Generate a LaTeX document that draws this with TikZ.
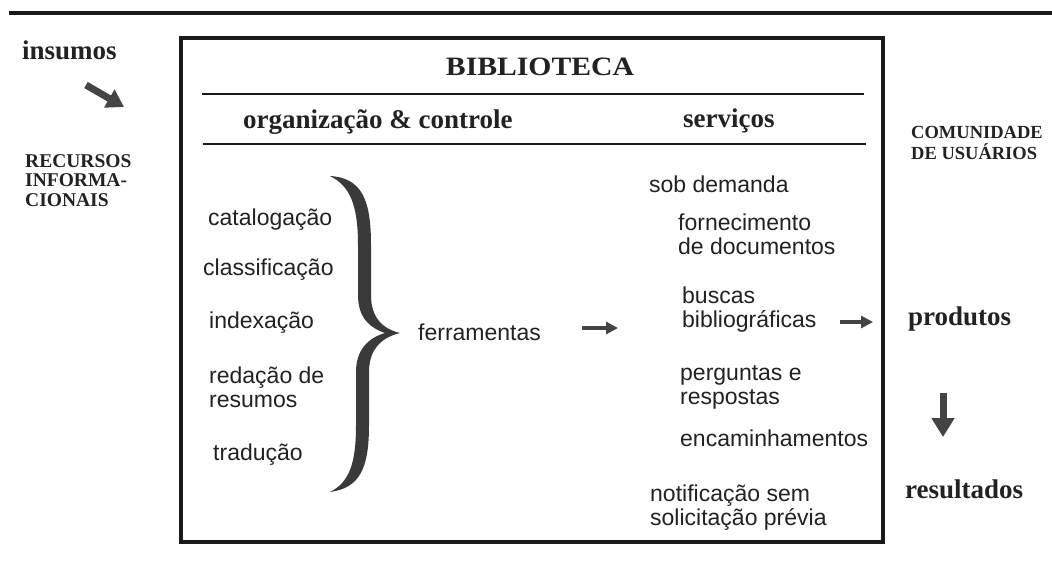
\documentclass[tikz,border=0pt]{standalone}
\usepackage{fontspec}
\usepackage{graphicx}
\setmainfont{Liberation Serif}
\setsansfont{Liberation Sans}
\usetikzlibrary{arrows.meta}
\definecolor{ink}{HTML}{222222}
\definecolor{arr}{HTML}{444444}
\definecolor{bracec}{HTML}{3A3A3A}
\tikzset{
  serifb/.style={font=\fontsize{27}{30}\selectfont\bfseries, text=ink, inner sep=0pt, anchor=base west},
  capsb/.style={font=\fontsize{19.5}{19.5}\selectfont\bfseries, text=ink, inner sep=0pt, anchor=base west},
  capsc/.style={font=\fontsize{18.5}{20}\selectfont\bfseries, text=ink, inner sep=0pt, anchor=base west},
  sanst/.style={font=\fontsize{23}{24}\selectfont\sffamily, text=ink, inner sep=0pt, anchor=base west},
  thinarrow/.style={draw=arr, line width=3.5pt, -{Triangle[length=12pt,width=12pt]}},
  bigarrow/.style={draw=arr, line width=7pt, -{Triangle[length=19pt,width=22pt]}},
  diagarrow/.style={draw=arr, line width=7pt, -{Triangle[length=17pt,width=20pt]}},
  frame/.style={draw=black!90, line width=3.5pt},
  rule/.style={draw=black!90, line width=2.2pt},
}
\newcommand{\rows}[1]{\begin{tabular}[t]{@{}l@{}}#1\end{tabular}}
\begin{document}
\begin{tikzpicture}[x=1pt,y=-1pt]
\useasboundingbox[fill=white] (0,0) rectangle (1052,570);
% top rule and frame
\draw[frame] (9,13) -- (1052,13);
\draw[frame] (181,38) rectangle (883,542);
\draw[rule] (202,94) -- (864,94);
\draw[rule] (203,144) -- (866,144);
% headings
\node[font=\fontsize{26.5}{30}\selectfont\bfseries, text=ink, inner sep=0pt, anchor=base] (bib) at (540,75) {\scalebox{1.12}[1]{BIBLIOTECA}};
\node[serifb] (org) at (243,128) {organização \& controle};
\node[serifb] (serv) at (683,127) {serviços};
% outside labels
\node[serifb] (ins) at (22,59) {insumos};
\node[capsb] (rec) at (25,167) {\rows{RECURSOS\\INFORMA-\\CIONAIS}};
\node[capsc] (com) at (911,138) {\rows{COMUNIDADE\\DE USUÁRIOS}};
\node[serifb] (prod) at (908,325) {produtos};
\node[serifb] (res) at (905,498) {resultados};
% left column
\node[sanst] (cat) at (208,225) {catalogação};
\node[sanst] (cla) at (203,275) {classificação};
\node[sanst] (ind) at (209,328) {indexação};
\node[sanst] (red) at (209,383) {\rows{redação de\\resumos}};
\node[sanst] (tra) at (213,460) {tradução};
\node[sanst] (fer) at (418,340) {ferramentas};
% services column
\node[sanst] (sob) at (649,192) {sob demanda};
\node[sanst] (for) at (678,230) {\rows{fornecimento\\de documentos}};
\node[sanst] (bus) at (682,303) {\rows{buscas\\bibliográficas}};
\node[sanst] (per) at (680,380) {\rows{perguntas e\\respostas}};
\node[sanst] (enc) at (680,446) {encaminhamentos};
\node[sanst] (not) at (650,501) {\rows{notificação sem\\solicitação prévia}};
% brace
\fill[bracec] (330,176) .. controls (362,178) and (371,200) .. (371,245)
  -- (371,295) .. controls (371,318) and (383,329) .. (400,333)
  .. controls (383,337) and (369,348) .. (369,372)
  -- (369,425) .. controls (369,468) and (360,488) .. (330,492)
  .. controls (350,482) and (356,462) .. (356,425)
  -- (356,372) .. controls (356,350) and (368,338) .. (385,333)
  .. controls (370,328) and (358,318) .. (358,295)
  -- (358,245) .. controls (358,205) and (350,186) .. (330,176) -- cycle;
% arrows
\coordinate (d1) at (86,85);
\coordinate (d2) at (124,107);
\draw[diagarrow] (d1) -- (d2);
\coordinate (f1) at (582,328);
\coordinate (f2) at (618,328);
\draw[thinarrow] (f1) -- (f2);
\coordinate (b1) at (840,322);
\coordinate (b2) at (873,322);
\draw[thinarrow] (b1) -- (b2);
\coordinate (p1) at (943,393);
\coordinate (p2) at (943,437);
\draw[bigarrow] (p1) -- (p2);
\end{tikzpicture}
\end{document}
